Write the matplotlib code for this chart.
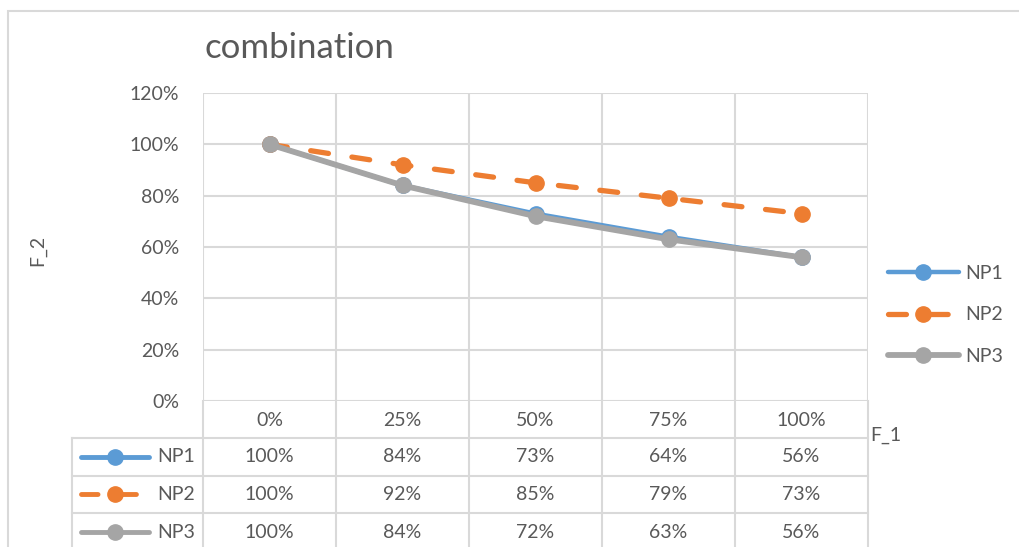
import numpy as np
import matplotlib
matplotlib.use("Agg")
import matplotlib.pyplot as plt
import matplotlib.transforms as mtransforms
from matplotlib.lines import Line2D
from matplotlib.patches import Rectangle

categories = ['0%', '25%', '50%', '75%', '100%']
series_names = ['NP1', 'NP2', 'NP3']
np1 = [100, 84, 73, 64, 56]
np2 = [100, 92, 85, 79, 73]
np3 = [100, 84, 72, 63, 56]
series_values = [np1, np2, np3]
colors = ['#5B9BD5', '#ED7D31', '#A5A5A5']
styles = ['-', '--', '-']
widths = [3.2, 3.8, 4.2]

W, H = 1019, 547
def fx(x):
    return x / W
def fy(y):
    return 1 - y / H

plt.rcParams['font.family'] = ['Lato', 'DejaVu Sans']
txt = '#595959'
grid_c = '#D9D9D9'
fs = 14
dash = (3.4, 4.5)

fig = plt.figure(figsize=(W / 100, H / 100), dpi=100)
ax = fig.add_axes([fx(203), fy(401), fx(868) - fx(203), fy(93) - fy(401)])

x = np.arange(len(categories))
handles = []
for vals, c, ls, lw, name in zip(series_values, colors, styles, widths, series_names):
    ln, = ax.plot(x, vals, color=c, lw=lw, ls=ls, marker='o', ms=11,
                  label=name, solid_capstyle='round', dash_capstyle='round')
    if ls == '--':
        ln.set_dashes(dash)
    handles.append(ln)

ax.set_xlim(-0.5, len(categories) - 0.5)
ax.set_ylim(0, 120)
ax.set_yticks(np.arange(0, 121, 20))
ax.set_yticklabels(['%d%%' % v for v in range(0, 121, 20)])
ax.set_xticks(x)
ax.set_xticklabels(categories)
ax.set_xticks(np.arange(-0.5, len(categories), 1), minor=True)
ax.tick_params(axis='both', which='both', length=0, colors=txt, labelsize=fs)
ax.tick_params(axis='y', pad=17)
ax.tick_params(axis='x', pad=8)
ax.grid(axis='y', which='major', color=grid_c, lw=1.5)
ax.grid(axis='x', which='minor', color=grid_c, lw=1.5)
ax.set_axisbelow(True)
for s in ax.spines.values():
    s.set_visible(False)

# outer chart border
fig.patches.append(Rectangle((fx(8), fy(560)), fx(1030) - fx(8), fy(11) - fy(560),
                             transform=fig.transFigure, fill=False,
                             edgecolor=grid_c, lw=1.5))

fig.text(fx(205), fy(48), 'combination', fontsize=25, color=txt, va='center', ha='left')
fig.text(fx(38), fy(250), 'F_2', fontsize=fs, color=txt, rotation=90, va='center', ha='center')
fig.text(fx(870), fy(435), 'F_1', fontsize=fs, color=txt, va='center', ha='left')

# data table below the plot
row_lines = [438, 476, 513]
row_centers = [457, 494, 532]
for yl in row_lines:
    fig.add_artist(Line2D([fx(72), fx(868)], [fy(yl), fy(yl)], color=grid_c, lw=1.5,
                          transform=fig.transFigure))
fig.add_artist(Line2D([fx(72), fx(72)], [fy(438), fy(560)], color=grid_c, lw=1.5,
                      transform=fig.transFigure))
blend = mtransforms.blended_transform_factory(ax.transData, fig.transFigure)
for b in np.arange(-0.5, len(categories), 1):
    fig.add_artist(Line2D([b, b], [fy(401), fy(560)], color=grid_c, lw=1.5,
                          transform=blend))

for name, vals, c, ls, lw, yc in zip(series_names, series_values, colors, styles, widths, row_centers):
    key = Line2D([fx(81), fx(149)], [fy(yc), fy(yc)], color=c, lw=3.5, ls=ls,
                 solid_capstyle='round', dash_capstyle='round', transform=fig.transFigure)
    if ls == '--':
        key.set_dashes(dash)
    fig.add_artist(key)
    fig.add_artist(Line2D([fx(115)], [fy(yc)], color=c, marker='o', ms=11,
                          transform=fig.transFigure))
    fig.text(fx(157), fy(yc), name, fontsize=fs, color=txt, va='center', ha='left')
    for i, v in enumerate(vals):
        fig.text(i, fy(yc), '%d%%' % v, fontsize=fs, color=txt, va='center', ha='center',
                 transform=blend)

leg = fig.legend(handles=handles, loc='center left', bbox_to_anchor=(fx(870), fy(315)),
                 frameon=False, fontsize=fs, handlelength=3.7, labelspacing=1.25,
                 handletextpad=0.3, numpoints=1)
for t in leg.get_texts():
    t.set_color(txt)

fig.savefig('out.png', dpi=100)
